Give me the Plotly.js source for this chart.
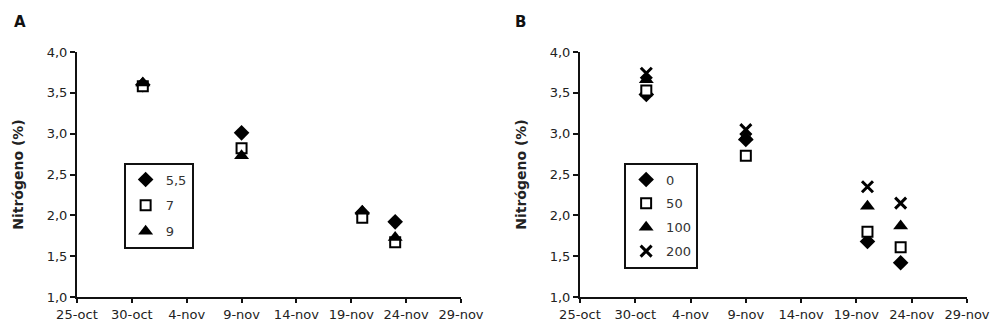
<!DOCTYPE html>
<html>
<head>
<meta charset="utf-8">
<script src="https://cdn.plot.ly/plotly-3.0.1.min.js"></script>
<style>html,body{margin:0;padding:0;background:#fff;}#chart{width:997px;height:333px;}</style>
</head>
<body>
<div id="chart"></div>
<script>
// Sampling dates (year arbitrary)
var datesA = ["2008-10-31", "2008-11-09", "2008-11-20", "2008-11-23"];
var datesB = ["2008-10-31", "2008-11-09", "2008-11-20", "2008-11-23"];

// Panel A: pH series
var namesA = ["5,5", "7", "9"];
var pH55 = [3.60, 3.01, 2.03, 1.92];
var pH7  = [3.58, 2.82, 1.97, 1.67];
var pH9  = [3.62, 2.73, 2.05, 1.73];

// Panel B: N dose series
var namesB = ["0", "50", "100", "200"];
var n0   = [3.48, 2.93, 1.68, 1.42];
var n50  = [3.53, 2.73, 1.80, 1.61];
var n100 = [3.66, 2.96, 2.11, 1.87];
var n200 = [3.74, 3.05, 2.35, 2.15];

// Axis ticks
var tickDates = ["2008-10-25", "2008-10-30", "2008-11-04", "2008-11-09", "2008-11-14", "2008-11-19", "2008-11-24", "2008-11-29"];
var tickLabels = ["25-oct", "30-oct", "4-nov", "9-nov", "14-nov", "19-nov", "24-nov", "29-nov"];
var yTicks = [1.0, 1.5, 2.0, 2.5, 3.0, 3.5, 4.0];
var yTickLabels = ["1,0", "1,5", "2,0", "2,5", "3,0", "3,5", "4,0"];

var mk = {
  diamond: {symbol: "diamond", size: 12, color: "#000", line: {width: 0}},
  square: {symbol: "square", size: 10, color: "#fff", line: {width: 2, color: "#000"}},
  triangle: {symbol: "triangle-up", size: 13, color: "#000", line: {width: 0}},
  cross: {symbol: "x-thin", size: 11, color: "#000", line: {width: 3, color: "#000"}}
};

function tr(x, y, name, marker, xa, ya, leg, grp) {
  return {x: x, y: y, name: name, type: "scatter", mode: "markers", marker: marker,
          xaxis: xa, yaxis: ya, legend: leg, legendgroup: grp, cliponaxis: false};
}

var data = [
  tr(datesA, pH55, namesA[0], mk.diamond, "x", "y", "legend", "a1"),
  tr(datesA, pH7, namesA[1], mk.square, "x", "y", "legend", "a2"),
  tr(datesA, pH9, namesA[2], mk.triangle, "x", "y", "legend", "a3"),
  tr(datesB, n0, namesB[0], mk.diamond, "x2", "y2", "legend2", "b1"),
  tr(datesB, n50, namesB[1], mk.square, "x2", "y2", "legend2", "b2"),
  tr(datesB, n100, namesB[2], mk.triangle, "x2", "y2", "legend2", "b3"),
  tr(datesB, n200, namesB[3], mk.cross, "x2", "y2", "legend2", "b4")
];

var tickFont = {family: "DejaVu Sans", size: 13, color: "#222"};
function xax(dom) {
  return {domain: dom, type: "date", range: ["2008-10-25", "2008-11-29"], tickmode: "array",
          tickvals: tickDates, ticktext: tickLabels, showgrid: false, zeroline: false,
          showline: true, linecolor: "#111", linewidth: 2, ticks: "outside", ticklen: 4,
          tickwidth: 2, tickcolor: "#111", tickfont: tickFont, fixedrange: true};
}
function yax(anchor, standoff) {
  return {domain: [0.1081, 0.8438], anchor: anchor, range: [1, 4], tickmode: "array",
          tickvals: yTicks, ticktext: yTickLabels, showgrid: false, zeroline: false,
          showline: true, linecolor: "#111", linewidth: 2, ticks: "outside", ticklen: 5,
          tickwidth: 2, tickcolor: "#111", tickfont: tickFont,
          title: {text: "Nitrógeno (%)", font: {family: "DejaVu Sans", size: 14, color: "#222", weight: "bold"}, standoff: standoff},
          fixedrange: true};
}
function leg(x, y, gap) {
  return {x: x, y: y, xanchor: "left", yanchor: "top", xref: "paper", yref: "paper",
          bordercolor: "#111", borderwidth: 2, bgcolor: "#fff",
          font: {family: "DejaVu Sans", size: 13, color: "#333"},
          traceorder: "grouped", tracegroupgap: gap, itemwidth: 30};
}

var layout = {
  width: 997, height: 333,
  margin: {l: 0, r: 0, t: 0, b: 0},
  paper_bgcolor: "#fff", plot_bgcolor: "#fff",
  showlegend: true,
  xaxis: xax([0.0772, 0.4624]),
  yaxis: yax("x", 20),
  xaxis2: Object.assign(xax([0.5817, 0.9699]), {anchor: "y2"}),
  yaxis2: yax("x2", 20),
  legend: leg(0.124, 0.512, 6),
  legend2: leg(0.626, 0.512, 4),
  annotations: [
    {text: "<b>A</b>", xref: "paper", yref: "paper", x: 12 / 997, y: 1 - 22 / 333, xanchor: "left", yanchor: "middle", showarrow: false, font: {family: "DejaVu Sans", size: 15, color: "#111"}},
    {text: "<b>B</b>", xref: "paper", yref: "paper", x: 513 / 997, y: 1 - 22 / 333, xanchor: "left", yanchor: "middle", showarrow: false, font: {family: "DejaVu Sans", size: 15, color: "#111"}}
  ]
};
layout.xaxis.anchor = "y";

Plotly.newPlot("chart", data, layout, {displayModeBar: false, staticPlot: true});
</script>
</body>
</html>
